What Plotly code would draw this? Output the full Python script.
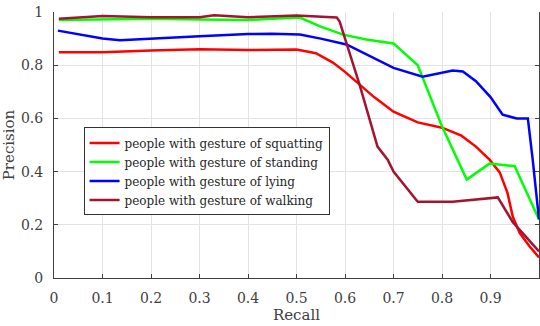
import plotly.graph_objects as go

names = ["people with gesture of squatting", "people with gesture of standing",
         "people with gesture of lying", "people with gesture of walking"]

squat_x = [0.01, 0.1, 0.2, 0.3, 0.4, 0.45, 0.5, 0.54, 0.575, 0.6, 0.63, 0.66, 0.7, 0.75, 0.8, 0.84, 0.87, 0.898, 0.919, 0.935, 0.946, 0.96, 0.98, 1.0]
squat_y = [0.849, 0.849, 0.855, 0.86, 0.857, 0.858, 0.859, 0.845, 0.81, 0.775, 0.727, 0.68, 0.625, 0.585, 0.565, 0.535, 0.494, 0.445, 0.397, 0.32, 0.23, 0.17, 0.12, 0.077]

stand_x = [0.01, 0.1, 0.2, 0.3, 0.4, 0.45, 0.507, 0.55, 0.596, 0.644, 0.7, 0.75, 0.8, 0.851, 0.898, 0.95, 1.0]
stand_y = [0.97, 0.972, 0.975, 0.972, 0.97, 0.975, 0.979, 0.945, 0.915, 0.897, 0.882, 0.80, 0.57, 0.37, 0.43, 0.42, 0.22]

lying_x = [0.008, 0.05, 0.1, 0.136, 0.197, 0.3, 0.4, 0.45, 0.507, 0.55, 0.603, 0.65, 0.7, 0.76, 0.8, 0.822, 0.843, 0.87, 0.9, 0.925, 0.954, 0.977, 0.987, 1.0]
lying_y = [0.93, 0.915, 0.9, 0.894, 0.9, 0.909, 0.917, 0.918, 0.915, 0.9, 0.878, 0.835, 0.79, 0.757, 0.772, 0.78, 0.776, 0.74, 0.68, 0.614, 0.60, 0.60, 0.445, 0.22]

walk_x = [0.01, 0.1, 0.2, 0.3, 0.33, 0.4, 0.5, 0.583, 0.589, 0.63, 0.667, 0.688, 0.7, 0.75, 0.822, 0.915, 0.946, 1.0]
walk_y = [0.975, 0.985, 0.98, 0.98, 0.988, 0.98, 0.987, 0.979, 0.964, 0.727, 0.494, 0.445, 0.40, 0.287, 0.287, 0.303, 0.21, 0.10]

colors = ["#FF0000", "#00FF00", "#0000FF", "#A2142F"]

xticks = [0, 0.1, 0.2, 0.3, 0.4, 0.5, 0.6, 0.7, 0.8, 0.9, 1]
xticklabels = ["0", "0.1", "0.2", "0.3", "0.4", "0.5", "0.6", "0.7", "0.8", "0.9", "1"]
yticks = [0, 0.2, 0.4, 0.6, 0.8, 1]
yticklabels = ["0", "0.2", "0.4", "0.6", "0.8", "1"]

fig = go.Figure()
for xs, ys, n, c in zip([squat_x, stand_x, lying_x, walk_x],
                        [squat_y, stand_y, lying_y, walk_y], names, colors):
    fig.add_trace(go.Scatter(x=xs, y=ys, mode="lines", name=n,
                             line=dict(color=c, width=2.5)))

font = "DejaVu Serif"
fig.update_layout(
    width=540, height=326,
    margin=dict(l=54, r=1, t=12, b=48),
    paper_bgcolor="white", plot_bgcolor="white",
    font=dict(family=font, size=14, color="#404040"),
    legend=dict(x=0.061, y=0.566, xanchor="left", yanchor="top",
                bgcolor="white", bordercolor="#333333", borderwidth=1,
                font=dict(family=font, size=12, color="#262626"),
                tracegroupgap=2, itemwidth=30),
    xaxis=dict(range=[0, 1], tickvals=xticks, ticktext=xticklabels,
               showgrid=True, gridcolor="#e3e3e3", gridwidth=1,
               showline=True, linecolor="#404040", linewidth=1,
               ticks="inside", ticklen=4, tickcolor="#404040",
               ticklabelstandoff=7,
               tickfont=dict(family=font, size=14, color="#404040"),
               zeroline=False,
               title=dict(text="Recall", font=dict(size=15, family=font, color="#404040"), standoff=2)),
    yaxis=dict(range=[0, 1], tickvals=yticks, ticktext=yticklabels,
               showgrid=True, gridcolor="#e3e3e3", gridwidth=1,
               showline=True, linecolor="#404040", linewidth=1, mirror="ticks",
               ticks="inside", ticklen=4, tickcolor="#404040",
               ticklabelstandoff=7,
               tickfont=dict(family=font, size=14, color="#404040"),
               zeroline=False,
               title=dict(text="Precision", font=dict(size=15, family=font, color="#404040"), standoff=6)),
)
fig.write_html("out.html")
